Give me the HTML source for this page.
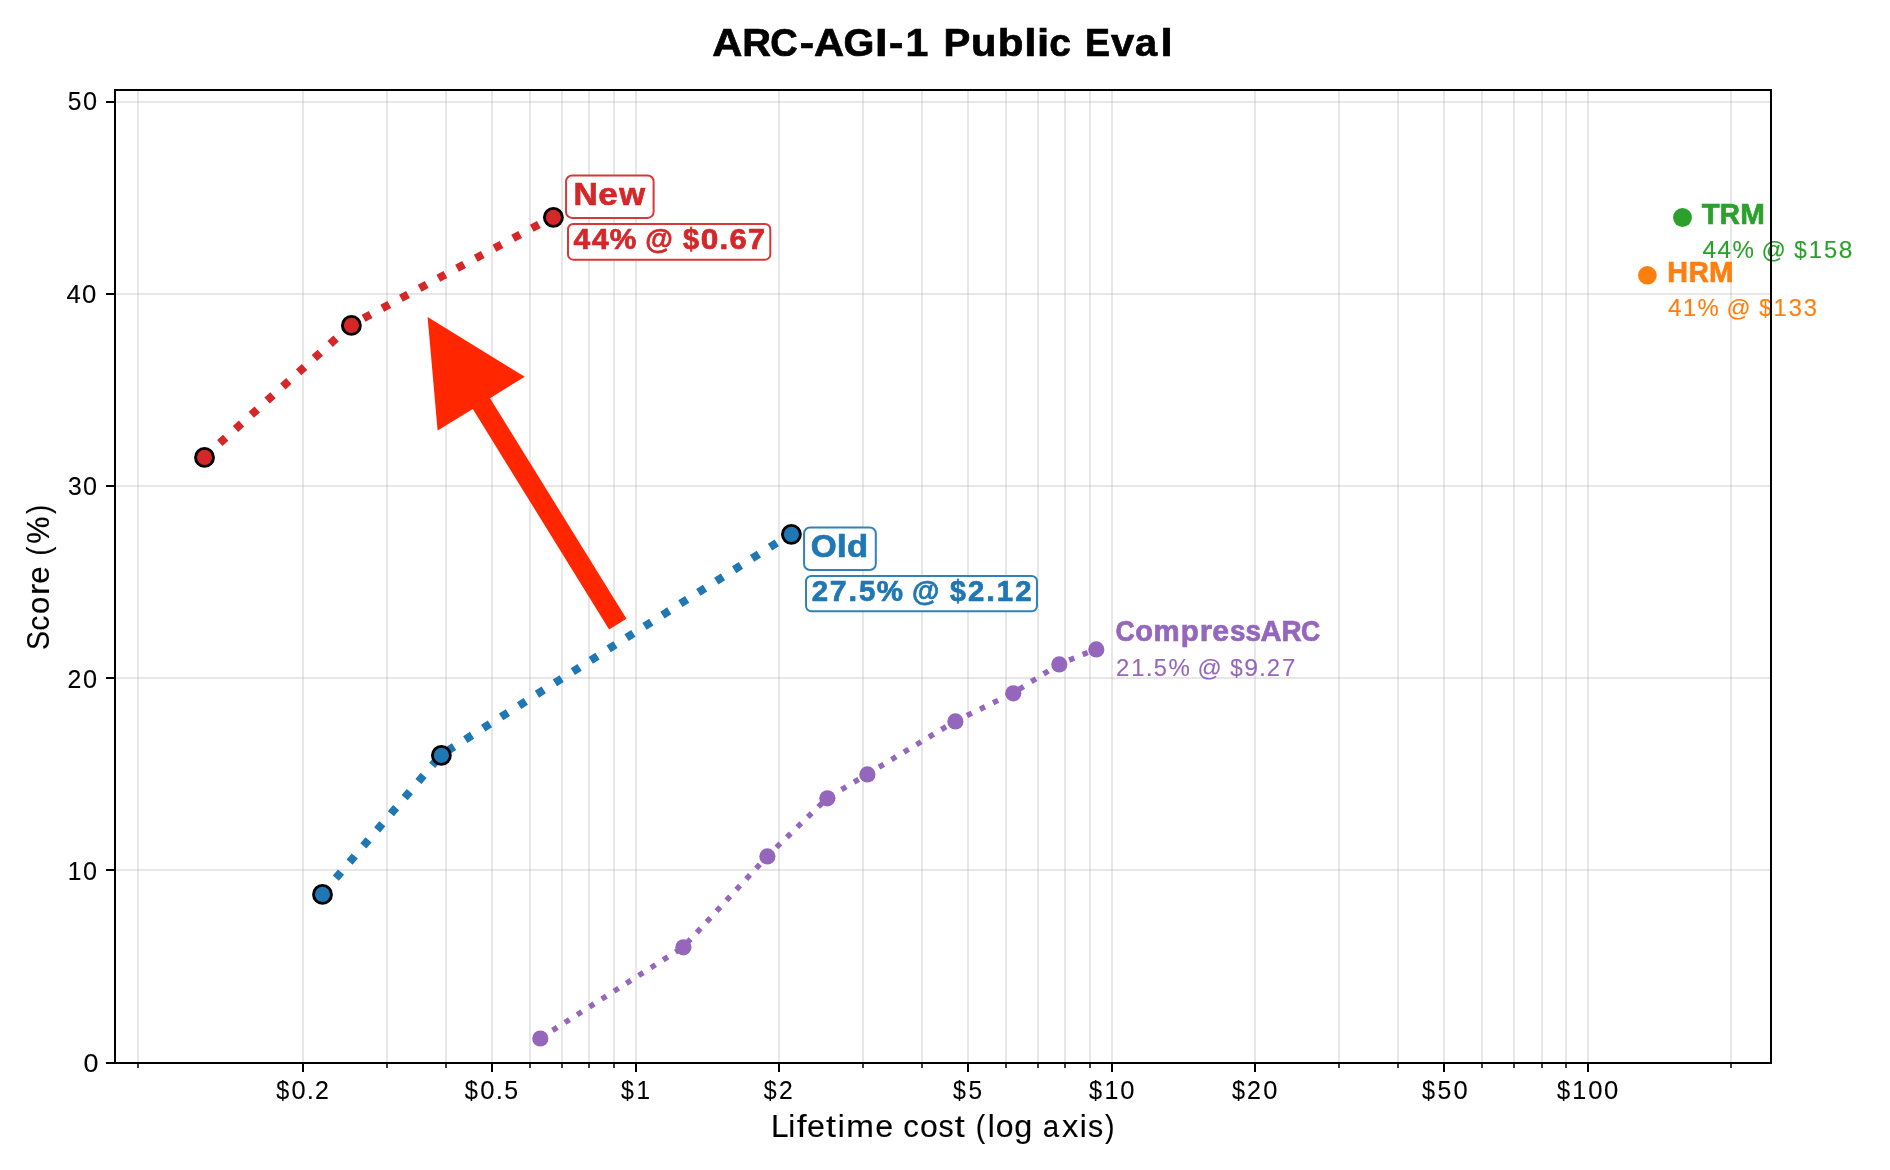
<!DOCTYPE html><html><head><meta charset="utf-8"><title>ARC-AGI-1 Public Eval</title><style>html,body{margin:0;padding:0;background:#fff;}svg{display:block;}text{font-family:"Liberation Sans",sans-serif;}</style></head><body>
<svg style="will-change:transform" width="1890" height="1170" viewBox="0 0 1890 1170">
<rect x="0" y="0" width="1890" height="1170" fill="#ffffff"/>
<defs><clipPath id="ax"><rect x="115.0" y="90.0" width="1656.0" height="973.0"/></clipPath></defs>
<g clip-path="url(#ax)"><path d="M138 90.0V1063.0M303 90.0V1063.0M387 90.0V1063.0M446 90.0V1063.0M492 90.0V1063.0M530 90.0V1063.0M562 90.0V1063.0M589 90.0V1063.0M614 90.0V1063.0M636 90.0V1063.0M779 90.0V1063.0M863 90.0V1063.0M922 90.0V1063.0M968 90.0V1063.0M1006 90.0V1063.0M1038 90.0V1063.0M1065 90.0V1063.0M1090 90.0V1063.0M1112 90.0V1063.0M1255 90.0V1063.0M1339 90.0V1063.0M1398 90.0V1063.0M1444 90.0V1063.0M1482 90.0V1063.0M1514 90.0V1063.0M1542 90.0V1063.0M1566 90.0V1063.0M1588 90.0V1063.0M1731 90.0V1063.0" stroke="#b0b0b0" stroke-opacity="0.3" stroke-width="2" fill="none"/><path d="M115.0 102H1771.0M115.0 294H1771.0M115.0 486H1771.0M115.0 678H1771.0M115.0 870H1771.0" stroke="#b0b0b0" stroke-opacity="0.3" stroke-width="2" fill="none"/>
<path d="M540.3 1038.2 L683.4 947.0 L767.4 856.1 L827.4 798.0 L867.4 774.1 L955.4 721.1 L1013.3 693.0 L1059.3 664.1 L1096.3 649.1" stroke="#9467bd" stroke-width="5.5" stroke-dasharray="5.5 9.07" fill="none"/>
<path d="M322.5 893.8 L441.4 754.6 L791.4 533.6" stroke="#1f77b4" stroke-width="8" stroke-dasharray="8 13.2" stroke-dashoffset="0.7" fill="none"/>
<path d="M204.5 456.8 L351.4 324.8 L553.4 216.7" stroke="#d62728" stroke-width="8" stroke-dasharray="8 13.2" stroke-dashoffset="0.7" fill="none"/>
<circle cx="540.3" cy="1038.5" r="8.1" fill="#9467bd"/>
<circle cx="683.4" cy="947.3" r="8.1" fill="#9467bd"/>
<circle cx="767.4" cy="856.4" r="8.1" fill="#9467bd"/>
<circle cx="827.4" cy="798.3" r="8.1" fill="#9467bd"/>
<circle cx="867.4" cy="774.4" r="8.1" fill="#9467bd"/>
<circle cx="955.4" cy="721.4" r="8.1" fill="#9467bd"/>
<circle cx="1013.3" cy="693.3" r="8.1" fill="#9467bd"/>
<circle cx="1059.3" cy="664.4" r="8.1" fill="#9467bd"/>
<circle cx="1096.3" cy="649.4" r="8.1" fill="#9467bd"/>
<circle cx="322.5" cy="894.4" r="9" fill="#1f77b4" stroke="#000" stroke-width="2.85"/>
<circle cx="441.4" cy="755.3" r="9" fill="#1f77b4" stroke="#000" stroke-width="2.85"/>
<circle cx="791.4" cy="534.3" r="9" fill="#1f77b4" stroke="#000" stroke-width="2.85"/>
<circle cx="204.5" cy="457.4" r="9" fill="#d62728" stroke="#000" stroke-width="2.85"/>
<circle cx="351.4" cy="325.4" r="9" fill="#d62728" stroke="#000" stroke-width="2.85"/>
<circle cx="553.4" cy="217.3" r="9" fill="#d62728" stroke="#000" stroke-width="2.85"/>
<circle cx="1682.5" cy="217.5" r="9.4" fill="#2ca02c"/>
<circle cx="1647.4" cy="275.3" r="9.3" fill="#ff7f0e"/>
<path d="M427.6 316.9 L524.7 376.7 L490.0 398.3 L626.5 618.7 L609.1 629.6 L472.8 408.9 L437.6 430.6 Z" fill="#ff2600"/>
</g>
<rect x="566.07" y="175.56" width="87.53" height="42.34" rx="6.0" ry="6.0" fill="#fff" fill-opacity="0.92" stroke="#d62728" stroke-opacity="0.92" stroke-width="2"/>
<rect x="568.0" y="223.9" width="202.30" height="35.76" rx="5.25" ry="5.25" fill="#fff" fill-opacity="0.92" stroke="#d62728" stroke-opacity="0.92" stroke-width="2"/>
<rect x="804.07" y="527.5" width="71.73" height="42.50" rx="6.0" ry="6.0" fill="#fff" fill-opacity="0.92" stroke="#1f77b4" stroke-opacity="0.92" stroke-width="2"/>
<rect x="806.03" y="575.9" width="230.94" height="35.40" rx="5.25" ry="5.25" fill="#fff" fill-opacity="0.92" stroke="#1f77b4" stroke-opacity="0.92" stroke-width="2"/>
<text transform="translate(0 55.8)" y="0" font-size="38.95" font-weight="bold" fill="#000" stroke="#000" stroke-width="0.7" xml:space="preserve"><tspan x="712.30" textLength="30.10" lengthAdjust="spacingAndGlyphs">A</tspan><tspan x="742.29" textLength="28.72" lengthAdjust="spacingAndGlyphs">R</tspan><tspan x="770.15" textLength="27.46" lengthAdjust="spacingAndGlyphs">C</tspan><tspan x="799.72" textLength="14.29" lengthAdjust="spacingAndGlyphs">-</tspan><tspan x="814.11" textLength="30.10" lengthAdjust="spacingAndGlyphs">A</tspan><tspan x="843.53" textLength="30.86" lengthAdjust="spacingAndGlyphs">G</tspan><tspan x="875.13" textLength="12.39" lengthAdjust="spacingAndGlyphs">I</tspan><tspan x="888.95" textLength="14.29" lengthAdjust="spacingAndGlyphs">-</tspan><tspan x="905.58" textLength="22.82" lengthAdjust="spacingAndGlyphs">1</tspan><tspan x="929.91"> </tspan><tspan x="943.56" textLength="26.82" lengthAdjust="spacingAndGlyphs">P</tspan><tspan x="970.99" textLength="25.46" lengthAdjust="spacingAndGlyphs">u</tspan><tspan x="997.81" textLength="25.77" lengthAdjust="spacingAndGlyphs">b</tspan><tspan x="1024.21" textLength="12.24" lengthAdjust="spacingAndGlyphs">l</tspan><tspan x="1037.05" textLength="12.24" lengthAdjust="spacingAndGlyphs">i</tspan><tspan x="1049.23" textLength="21.61" lengthAdjust="spacingAndGlyphs">c</tspan><tspan x="1071.78"> </tspan><tspan x="1084.93" textLength="25.04" lengthAdjust="spacingAndGlyphs">E</tspan><tspan x="1111.06" textLength="23.16" lengthAdjust="spacingAndGlyphs">v</tspan><tspan x="1135.04" textLength="22.12" lengthAdjust="spacingAndGlyphs">a</tspan><tspan x="1160.42" textLength="12.24" lengthAdjust="spacingAndGlyphs">l</tspan></text>
<text transform="translate(0 110.35)" y="0" font-size="26.16" font-weight="normal" fill="#000" stroke="#000" stroke-width="0.12" xml:space="preserve"><tspan x="67.63" textLength="13.66" lengthAdjust="spacingAndGlyphs">5</tspan><tspan x="83.03" textLength="14.06" lengthAdjust="spacingAndGlyphs">0</tspan></text>
<text transform="translate(0 302.5)" y="0" font-size="26.16" font-weight="normal" fill="#000" stroke="#000" stroke-width="0.12" xml:space="preserve"><tspan x="66.42" textLength="14.27" lengthAdjust="spacingAndGlyphs">4</tspan><tspan x="81.93" textLength="14.27" lengthAdjust="spacingAndGlyphs">0</tspan></text>
<text transform="translate(0 494.5)" y="0" font-size="26.16" font-weight="normal" fill="#000" stroke="#000" stroke-width="0.12" xml:space="preserve"><tspan x="67.90" textLength="13.75" lengthAdjust="spacingAndGlyphs">3</tspan><tspan x="83.11" textLength="14.01" lengthAdjust="spacingAndGlyphs">0</tspan></text>
<text transform="translate(0 687.6)" y="0" font-size="26.16" font-weight="normal" fill="#000" stroke="#000" stroke-width="0.12" xml:space="preserve"><tspan x="67.50" textLength="13.79" lengthAdjust="spacingAndGlyphs">2</tspan><tspan x="83.09" textLength="14.04" lengthAdjust="spacingAndGlyphs">0</tspan></text>
<text transform="translate(0 879.6)" y="0" font-size="26.16" font-weight="normal" fill="#000" stroke="#000" stroke-width="0.12" xml:space="preserve"><tspan x="67.77" textLength="13.69" lengthAdjust="spacingAndGlyphs">1</tspan><tspan x="83.11" textLength="14.00" lengthAdjust="spacingAndGlyphs">0</tspan></text>
<text transform="translate(0 1071.6)" y="0" font-size="26.16" font-weight="normal" fill="#000" stroke="#000" stroke-width="0.12" xml:space="preserve"><tspan x="83.46" textLength="14.94" lengthAdjust="spacingAndGlyphs">0</tspan></text>
<text transform="translate(0 1098.8)" y="0" font-size="26.16" font-weight="normal" fill="#000" stroke="#000" stroke-width="0.12" xml:space="preserve"><tspan x="276.28" textLength="12.94" lengthAdjust="spacingAndGlyphs">$</tspan><tspan x="291.44" textLength="14.09" lengthAdjust="spacingAndGlyphs">0</tspan><tspan x="306.75" textLength="7.14" lengthAdjust="spacingAndGlyphs">.</tspan><tspan x="314.93" textLength="13.84" lengthAdjust="spacingAndGlyphs">2</tspan></text>
<text transform="translate(0 1098.8)" y="0" font-size="26.16" font-weight="normal" fill="#000" stroke="#000" stroke-width="0.12" xml:space="preserve"><tspan x="464.74" textLength="13.08" lengthAdjust="spacingAndGlyphs">$</tspan><tspan x="480.13" textLength="14.24" lengthAdjust="spacingAndGlyphs">0</tspan><tspan x="495.64" textLength="7.22" lengthAdjust="spacingAndGlyphs">.</tspan><tspan x="504.27" textLength="13.84" lengthAdjust="spacingAndGlyphs">5</tspan></text>
<text transform="translate(0 1098.8)" y="0" font-size="26.16" font-weight="normal" fill="#000" stroke="#000" stroke-width="0.12" xml:space="preserve"><tspan x="621.08" textLength="12.75" lengthAdjust="spacingAndGlyphs">$</tspan><tspan x="636.45" textLength="13.56" lengthAdjust="spacingAndGlyphs">1</tspan></text>
<text transform="translate(0 1098.8)" y="0" font-size="26.16" font-weight="normal" fill="#000" stroke="#000" stroke-width="0.12" xml:space="preserve"><tspan x="763.86" textLength="12.83" lengthAdjust="spacingAndGlyphs">$</tspan><tspan x="779.01" textLength="13.72" lengthAdjust="spacingAndGlyphs">2</tspan></text>
<text transform="translate(0 1098.8)" y="0" font-size="26.16" font-weight="normal" fill="#000" stroke="#000" stroke-width="0.12" xml:space="preserve"><tspan x="952.99" textLength="12.81" lengthAdjust="spacingAndGlyphs">$</tspan><tspan x="968.50" textLength="13.55" lengthAdjust="spacingAndGlyphs">5</tspan></text>
<text transform="translate(0 1098.8)" y="0" font-size="26.16" font-weight="normal" fill="#000" stroke="#000" stroke-width="0.12" xml:space="preserve"><tspan x="1088.95" textLength="13.05" lengthAdjust="spacingAndGlyphs">$</tspan><tspan x="1104.38" textLength="13.89" lengthAdjust="spacingAndGlyphs">1</tspan><tspan x="1120.35" textLength="14.21" lengthAdjust="spacingAndGlyphs">0</tspan></text>
<text transform="translate(0 1098.8)" y="0" font-size="26.16" font-weight="normal" fill="#000" stroke="#000" stroke-width="0.12" xml:space="preserve"><tspan x="1231.95" textLength="12.99" lengthAdjust="spacingAndGlyphs">$</tspan><tspan x="1247.01" textLength="13.89" lengthAdjust="spacingAndGlyphs">2</tspan><tspan x="1263.13" textLength="14.14" lengthAdjust="spacingAndGlyphs">0</tspan></text>
<text transform="translate(0 1098.8)" y="0" font-size="26.16" font-weight="normal" fill="#000" stroke="#000" stroke-width="0.12" xml:space="preserve"><tspan x="1422.07" textLength="13.00" lengthAdjust="spacingAndGlyphs">$</tspan><tspan x="1437.51" textLength="13.75" lengthAdjust="spacingAndGlyphs">5</tspan><tspan x="1453.39" textLength="14.16" lengthAdjust="spacingAndGlyphs">0</tspan></text>
<text transform="translate(0 1098.8)" y="0" font-size="26.16" font-weight="normal" fill="#000" stroke="#000" stroke-width="0.12" xml:space="preserve"><tspan x="1557.00" textLength="13.08" lengthAdjust="spacingAndGlyphs">$</tspan><tspan x="1572.30" textLength="13.92" lengthAdjust="spacingAndGlyphs">1</tspan><tspan x="1588.17" textLength="14.25" lengthAdjust="spacingAndGlyphs">0</tspan><tspan x="1604.08" textLength="14.25" lengthAdjust="spacingAndGlyphs">0</tspan></text>
<text transform="translate(0 1136.6)" y="0" font-size="30.81" font-weight="normal" fill="#000" stroke="#000" stroke-width="0.12" xml:space="preserve"><tspan x="771.02" textLength="17.53" lengthAdjust="spacingAndGlyphs">L</tspan><tspan x="788.29" textLength="6.98" lengthAdjust="spacingAndGlyphs">i</tspan><tspan x="796.69" textLength="9.89" lengthAdjust="spacingAndGlyphs">f</tspan><tspan x="806.96" textLength="17.96" lengthAdjust="spacingAndGlyphs">e</tspan><tspan x="826.00" textLength="9.97" lengthAdjust="spacingAndGlyphs">t</tspan><tspan x="837.74" textLength="6.98" lengthAdjust="spacingAndGlyphs">i</tspan><tspan x="846.38" textLength="27.63" lengthAdjust="spacingAndGlyphs">m</tspan><tspan x="875.19" textLength="17.96" lengthAdjust="spacingAndGlyphs">e</tspan><tspan x="893.41"> </tspan><tspan x="903.17" textLength="15.57" lengthAdjust="spacingAndGlyphs">c</tspan><tspan x="919.95" textLength="17.81" lengthAdjust="spacingAndGlyphs">o</tspan><tspan x="938.57" textLength="15.21" lengthAdjust="spacingAndGlyphs">s</tspan><tspan x="954.66" textLength="9.97" lengthAdjust="spacingAndGlyphs">t</tspan><tspan x="965.67"> </tspan><tspan x="975.70" textLength="9.50" lengthAdjust="spacingAndGlyphs">(</tspan><tspan x="987.77" textLength="6.98" lengthAdjust="spacingAndGlyphs">l</tspan><tspan x="995.78" textLength="17.81" lengthAdjust="spacingAndGlyphs">o</tspan><tspan x="1014.32" textLength="18.01" lengthAdjust="spacingAndGlyphs">g</tspan><tspan x="1033.10"> </tspan><tspan x="1042.67" textLength="16.38" lengthAdjust="spacingAndGlyphs">a</tspan><tspan x="1061.90" textLength="16.36" lengthAdjust="spacingAndGlyphs">x</tspan><tspan x="1079.81" textLength="6.98" lengthAdjust="spacingAndGlyphs">i</tspan><tspan x="1087.95" textLength="15.21" lengthAdjust="spacingAndGlyphs">s</tspan><tspan x="1105.05" textLength="9.52" lengthAdjust="spacingAndGlyphs">)</tspan></text>
<text transform="translate(49.1 0) rotate(-90)" y="0" font-size="31.40" font-weight="normal" fill="#000" stroke="#000" stroke-width="0.12" xml:space="preserve"><tspan x="-649.97" textLength="19.01" lengthAdjust="spacingAndGlyphs">S</tspan><tspan x="-630.71" textLength="15.13" lengthAdjust="spacingAndGlyphs">c</tspan><tspan x="-613.96" textLength="17.31" lengthAdjust="spacingAndGlyphs">o</tspan><tspan x="-595.08" textLength="11.38" lengthAdjust="spacingAndGlyphs">r</tspan><tspan x="-583.73" textLength="17.44" lengthAdjust="spacingAndGlyphs">e</tspan><tspan x="-565.80"> </tspan><tspan x="-555.66" textLength="9.24" lengthAdjust="spacingAndGlyphs">(</tspan><tspan x="-543.78" textLength="27.20" lengthAdjust="spacingAndGlyphs">%</tspan><tspan x="-513.92" textLength="9.25" lengthAdjust="spacingAndGlyphs">)</tspan></text>
<text transform="translate(0 204.9)" y="0" font-size="31.83" font-weight="bold" fill="#d62728" stroke="#d62728" stroke-width="0.7" xml:space="preserve"><tspan x="573.57" textLength="24.18" lengthAdjust="spacingAndGlyphs">N</tspan><tspan x="598.39" textLength="19.47" lengthAdjust="spacingAndGlyphs">e</tspan><tspan x="619.35" textLength="25.81" lengthAdjust="spacingAndGlyphs">w</tspan></text>
<text transform="translate(0 248.9)" y="0" font-size="28.78" font-weight="bold" fill="#d62728" stroke="#d62728" stroke-width="0.7" xml:space="preserve"><tspan x="573.47" textLength="16.68" lengthAdjust="spacingAndGlyphs">4</tspan><tspan x="592.00" textLength="16.68" lengthAdjust="spacingAndGlyphs">4</tspan><tspan x="609.87" textLength="26.55" lengthAdjust="spacingAndGlyphs">%</tspan><tspan x="636.47"> </tspan><tspan x="645.23" textLength="27.58" lengthAdjust="spacingAndGlyphs">@</tspan><tspan x="672.38"> </tspan><tspan x="683.07" textLength="16.01" lengthAdjust="spacingAndGlyphs">$</tspan><tspan x="700.67" textLength="17.63" lengthAdjust="spacingAndGlyphs">0</tspan><tspan x="719.42" textLength="8.76" lengthAdjust="spacingAndGlyphs">.</tspan><tspan x="729.62" textLength="17.19" lengthAdjust="spacingAndGlyphs">6</tspan><tspan x="748.00" textLength="16.98" lengthAdjust="spacingAndGlyphs">7</tspan></text>
<text transform="translate(0 556.9)" y="0" font-size="31.83" font-weight="bold" fill="#1f77b4" stroke="#1f77b4" stroke-width="0.7" xml:space="preserve"><tspan x="810.76" textLength="25.93" lengthAdjust="spacingAndGlyphs">O</tspan><tspan x="836.66" textLength="10.08" lengthAdjust="spacingAndGlyphs">l</tspan><tspan x="846.91" textLength="21.14" lengthAdjust="spacingAndGlyphs">d</tspan></text>
<text transform="translate(0 600.8)" y="0" font-size="28.63" font-weight="bold" fill="#1f77b4" stroke="#1f77b4" stroke-width="0.7" xml:space="preserve"><tspan x="811.69" textLength="16.29" lengthAdjust="spacingAndGlyphs">2</tspan><tspan x="829.87" textLength="16.82" lengthAdjust="spacingAndGlyphs">7</tspan><tspan x="848.47" textLength="8.67" lengthAdjust="spacingAndGlyphs">.</tspan><tspan x="859.04" textLength="16.31" lengthAdjust="spacingAndGlyphs">5</tspan><tspan x="876.67" textLength="26.27" lengthAdjust="spacingAndGlyphs">%</tspan><tspan x="903.16"> </tspan><tspan x="912.09" textLength="27.29" lengthAdjust="spacingAndGlyphs">@</tspan><tspan x="939.13"> </tspan><tspan x="949.93" textLength="15.84" lengthAdjust="spacingAndGlyphs">$</tspan><tspan x="968.09" textLength="16.29" lengthAdjust="spacingAndGlyphs">2</tspan><tspan x="986.31" textLength="8.67" lengthAdjust="spacingAndGlyphs">.</tspan><tspan x="996.89" textLength="16.32" lengthAdjust="spacingAndGlyphs">1</tspan><tspan x="1015.36" textLength="16.29" lengthAdjust="spacingAndGlyphs">2</tspan></text>
<text transform="translate(0 641.2)" y="0" font-size="28.92" font-weight="bold" fill="#9467bd" stroke="#9467bd" stroke-width="0.7" xml:space="preserve"><tspan x="1115.42" textLength="19.24" lengthAdjust="spacingAndGlyphs">C</tspan><tspan x="1135.15" textLength="17.75" lengthAdjust="spacingAndGlyphs">o</tspan><tspan x="1153.59" textLength="26.15" lengthAdjust="spacingAndGlyphs">m</tspan><tspan x="1180.83" textLength="18.05" lengthAdjust="spacingAndGlyphs">p</tspan><tspan x="1199.69" textLength="12.23" lengthAdjust="spacingAndGlyphs">r</tspan><tspan x="1212.37" textLength="16.77" lengthAdjust="spacingAndGlyphs">e</tspan><tspan x="1229.99" textLength="15.47" lengthAdjust="spacingAndGlyphs">s</tspan><tspan x="1245.59" textLength="15.47" lengthAdjust="spacingAndGlyphs">s</tspan><tspan x="1260.61" textLength="21.09" lengthAdjust="spacingAndGlyphs">A</tspan><tspan x="1281.58" textLength="20.12" lengthAdjust="spacingAndGlyphs">R</tspan><tspan x="1301.07" textLength="19.24" lengthAdjust="spacingAndGlyphs">C</tspan></text>
<text transform="translate(0 675.5)" y="0" font-size="24.13" font-weight="normal" fill="#9467bd" stroke="#9467bd" stroke-width="0.12" xml:space="preserve"><tspan x="1115.90" textLength="13.30" lengthAdjust="spacingAndGlyphs">2</tspan><tspan x="1131.14" textLength="13.24" lengthAdjust="spacingAndGlyphs">1</tspan><tspan x="1145.68" textLength="6.86" lengthAdjust="spacingAndGlyphs">.</tspan><tspan x="1153.69" textLength="13.15" lengthAdjust="spacingAndGlyphs">5</tspan><tspan x="1168.38" textLength="21.37" lengthAdjust="spacingAndGlyphs">%</tspan><tspan x="1190.27"> </tspan><tspan x="1197.47" textLength="24.27" lengthAdjust="spacingAndGlyphs">@</tspan><tspan x="1221.34"> </tspan><tspan x="1230.17" textLength="12.43" lengthAdjust="spacingAndGlyphs">$</tspan><tspan x="1244.37" textLength="13.76" lengthAdjust="spacingAndGlyphs">9</tspan><tspan x="1259.13" textLength="6.86" lengthAdjust="spacingAndGlyphs">.</tspan><tspan x="1266.85" textLength="13.30" lengthAdjust="spacingAndGlyphs">2</tspan><tspan x="1282.07" textLength="13.39" lengthAdjust="spacingAndGlyphs">7</tspan></text>
<text transform="translate(0 223.8)" y="0" font-size="28.63" font-weight="bold" fill="#2ca02c" stroke="#2ca02c" stroke-width="0.7" xml:space="preserve"><tspan x="1701.87" textLength="17.88" lengthAdjust="spacingAndGlyphs">T</tspan><tspan x="1719.87" textLength="20.14" lengthAdjust="spacingAndGlyphs">R</tspan><tspan x="1740.28" textLength="24.58" lengthAdjust="spacingAndGlyphs">M</tspan></text>
<text transform="translate(0 257.8)" y="0" font-size="24.27" font-weight="normal" fill="#2ca02c" stroke="#2ca02c" stroke-width="0.12" xml:space="preserve"><tspan x="1702.56" textLength="13.58" lengthAdjust="spacingAndGlyphs">4</tspan><tspan x="1717.59" textLength="13.58" lengthAdjust="spacingAndGlyphs">4</tspan><tspan x="1732.41" textLength="21.42" lengthAdjust="spacingAndGlyphs">%</tspan><tspan x="1754.35"> </tspan><tspan x="1761.56" textLength="24.34" lengthAdjust="spacingAndGlyphs">@</tspan><tspan x="1785.48"> </tspan><tspan x="1794.33" textLength="12.47" lengthAdjust="spacingAndGlyphs">$</tspan><tspan x="1808.79" textLength="13.27" lengthAdjust="spacingAndGlyphs">1</tspan><tspan x="1823.88" textLength="13.18" lengthAdjust="spacingAndGlyphs">5</tspan><tspan x="1838.76" textLength="13.66" lengthAdjust="spacingAndGlyphs">8</tspan></text>
<text transform="translate(0 281.7)" y="0" font-size="28.63" font-weight="bold" fill="#ff7f0e" stroke="#ff7f0e" stroke-width="0.7" xml:space="preserve"><tspan x="1667.19" textLength="20.77" lengthAdjust="spacingAndGlyphs">H</tspan><tspan x="1688.69" textLength="20.07" lengthAdjust="spacingAndGlyphs">R</tspan><tspan x="1709.11" textLength="24.49" lengthAdjust="spacingAndGlyphs">M</tspan></text>
<text transform="translate(0 315.7)" y="0" font-size="24.27" font-weight="normal" fill="#ff7f0e" stroke="#ff7f0e" stroke-width="0.12" xml:space="preserve"><tspan x="1667.89" textLength="13.46" lengthAdjust="spacingAndGlyphs">4</tspan><tspan x="1682.90" textLength="13.14" lengthAdjust="spacingAndGlyphs">1</tspan><tspan x="1697.62" textLength="21.23" lengthAdjust="spacingAndGlyphs">%</tspan><tspan x="1719.40"> </tspan><tspan x="1726.62" textLength="24.11" lengthAdjust="spacingAndGlyphs">@</tspan><tspan x="1750.38"> </tspan><tspan x="1759.22" textLength="12.35" lengthAdjust="spacingAndGlyphs">$</tspan><tspan x="1773.60" textLength="13.14" lengthAdjust="spacingAndGlyphs">1</tspan><tspan x="1788.68" textLength="13.18" lengthAdjust="spacingAndGlyphs">3</tspan><tspan x="1803.64" textLength="13.18" lengthAdjust="spacingAndGlyphs">3</tspan></text>
<rect x="115.0" y="90.0" width="1656.0" height="973.0" fill="none" stroke="#000" stroke-width="2" stroke-linejoin="miter" stroke-linecap="square"/>
<path d="M303 1063.0V1072.0M492 1063.0V1072.0M636 1063.0V1072.0M779 1063.0V1072.0M968 1063.0V1072.0M1112 1063.0V1072.0M1255 1063.0V1072.0M1444 1063.0V1072.0M1588 1063.0V1072.0" stroke="#000" stroke-width="2" fill="none"/>
<path d="M138 1063.0V1068.0M387 1063.0V1068.0M446 1063.0V1068.0M530 1063.0V1068.0M562 1063.0V1068.0M589 1063.0V1068.0M614 1063.0V1068.0M863 1063.0V1068.0M922 1063.0V1068.0M1006 1063.0V1068.0M1038 1063.0V1068.0M1065 1063.0V1068.0M1090 1063.0V1068.0M1339 1063.0V1068.0M1398 1063.0V1068.0M1482 1063.0V1068.0M1514 1063.0V1068.0M1542 1063.0V1068.0M1566 1063.0V1068.0M1731 1063.0V1068.0" stroke="#000" stroke-width="1.5" fill="none"/>
<path d="M106.0 102H115.0M106.0 294H115.0M106.0 486H115.0M106.0 678H115.0M106.0 870H115.0M106.0 1063H115.0" stroke="#000" stroke-width="2" fill="none"/>
</svg></body></html>
